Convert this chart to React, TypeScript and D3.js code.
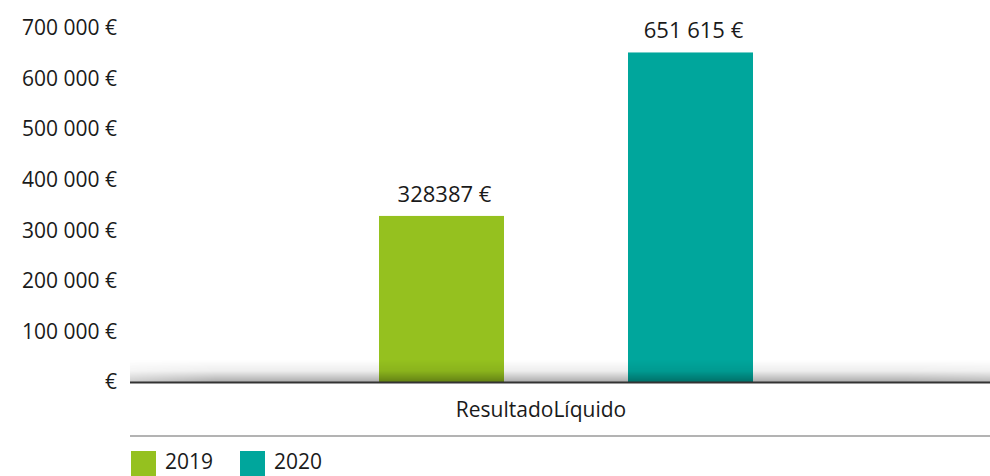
import React from "react";
import * as d3 from "d3";

const categories = ["ResultadoLíquido"];
const seriesNames = ["2019", "2020"];
const seriesColors = ["#95c11f", "#00a69c"];
const values2019 = [328387];
const values2020 = [651615];
const valueLabels2019 = ["328387 €"];
const valueLabels2020 = ["651 615 €"];
const yTicks = [0, 100000, 200000, 300000, 400000, 500000, 600000, 700000];
const yTickLabels = ["€", "100 000 €", "200 000 €", "300 000 €", "400 000 €", "500 000 €", "600 000 €", "700 000 €"];

const W = 990;
const H = 476;
const FONT = "'Open Sans', 'Noto Sans', sans-serif";

export default function App() {
  const plotLeft = 130;
  const plotRight = 990;
  const baseY = 382;
  const topY = 28;

  const y = d3.scaleLinear().domain([0, 700000]).range([baseY, topY]);
  const x0 = d3.scaleBand().domain(categories).range([plotLeft, plotRight]).paddingInner(0).paddingOuter(0);
  const x1 = d3.scaleBand().domain(seriesNames).range([187, 685]).padding(0);

  const seriesValues = [values2019, values2020];
  const seriesLabels = [valueLabels2019, valueLabels2020];
  const barW = 125;

  return (
    <svg width={W} height={H} style={{ position: "absolute", left: 0, top: 0, display: "block" }}>
      <defs>
        <linearGradient id="shadowV" x1="0" y1="0" x2="0" y2="1">
          <stop offset="0" stopColor="#000" stopOpacity="0" />
          <stop offset="0.5" stopColor="#000" stopOpacity="0.07" />
          <stop offset="1" stopColor="#000" stopOpacity="0.33" />
        </linearGradient>
        <linearGradient id="shadowH" x1="0" y1="0" x2="1" y2="0">
          <stop offset="0" stopColor="#fff" stopOpacity="0.6" />
          <stop offset="0.1" stopColor="#fff" stopOpacity="1" />
          <stop offset="0.9" stopColor="#fff" stopOpacity="1" />
          <stop offset="1" stopColor="#fff" stopOpacity="0.85" />
        </linearGradient>
        <mask id="shadowMask">
          <rect x={plotLeft} y={baseY - 22} width={plotRight - plotLeft} height={22} fill="url(#shadowH)" />
        </mask>
      </defs>
      <rect width={W} height={H} fill="#fff" />

      {yTicks.map((t, i) => (
        <text
          key={t}
          x={117}
          y={y(t)}
          dy="0.35em"
          textAnchor="end"
          fontFamily={FONT}
          fontSize={21}
          fill="#1a1a1a"
        >
          {yTickLabels[i]}
        </text>
      ))}

      {categories.map((c, ci) => (
        <g key={c} transform={`translate(${x0(c)},0)`}>
          {seriesNames.map((s, si) => {
            const v = seriesValues[si][ci];
            const cx = (x1(s) as number) + x1.bandwidth() / 2;
            return (
              <g key={s}>
                <rect x={cx - barW / 2} y={y(v)} width={barW} height={baseY - y(v)} fill={seriesColors[si]} />
                <text
                  x={cx + 3}
                  y={y(v) - 14}
                  textAnchor="middle"
                  fontFamily={FONT}
                  fontSize={22}
                  fill="#1a1a1a"
                >
                  {seriesLabels[si][ci]}
                </text>
              </g>
            );
          })}
        </g>
      ))}

      <rect
        x={plotLeft}
        y={baseY - 22}
        width={plotRight - plotLeft}
        height={22}
        fill="url(#shadowV)"
        mask="url(#shadowMask)"
      />
      <line x1={plotLeft} x2={plotRight} y1={baseY + 0.5} y2={baseY + 0.5} stroke="#333" strokeWidth={2} />

      {categories.map((c) => (
        <text
          key={c}
          x={(x0(c) as number) + x0.bandwidth() / 2 - 19}
          y={417}
          textAnchor="middle"
          fontFamily={FONT}
          fontSize={21}
          fill="#1a1a1a"
        >
          {c}
        </text>
      ))}

      <line x1={plotLeft} x2={plotRight} y1={436} y2={436} stroke="#b3b3b3" strokeWidth={2} />

      {seriesNames.map((s, i) => (
        <g key={s} transform={`translate(${131 + i * 109},451)`}>
          <rect x={0} y={0} width={25} height={25} fill={seriesColors[i]} />
          <text x={34} y={18} fontFamily={FONT} fontSize={21} fill="#1a1a1a">
            {s}
          </text>
        </g>
      ))}
    </svg>
  );
}
